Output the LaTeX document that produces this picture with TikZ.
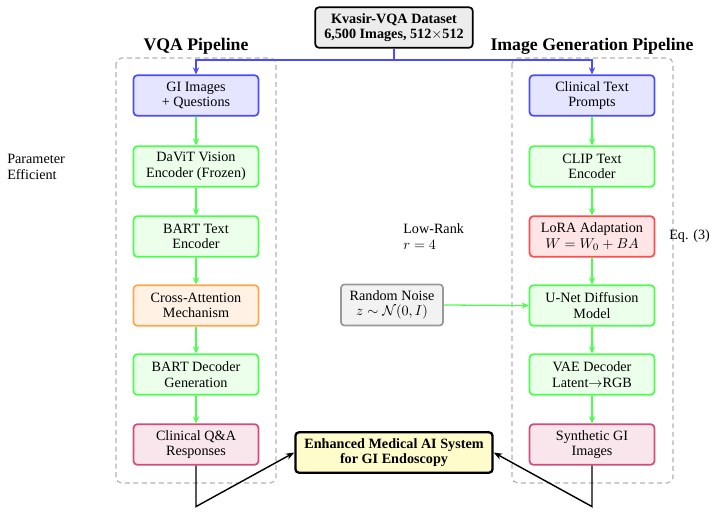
\documentclass[tikz,border=0pt]{standalone}
\usepackage{fontspec}
\setmainfont{Liberation Serif}
\usetikzlibrary{arrows.meta}
\begin{document}
\begin{tikzpicture}[x=0.705pt,y=-0.705pt,
  every node/.style={font=\fontsize{10}{11}\selectfont},
  box/.style={rectangle, rounded corners=2.5pt, align=center, minimum width=88pt, minimum height=28.5pt, inner sep=2pt, line width=1.2pt},
  inbox/.style={box, draw=blue!70, fill=blue!10},
  gbox/.style={box, draw=green!70, fill=green!8},
  obox/.style={box, draw=orange!70, fill=orange!10},
  rbox/.style={box, draw=red!70, fill=red!10},
  pbox/.style={box, draw=purple!70, fill=purple!10},
  garrow/.style={draw=green!70, line width=0.9pt, -{Stealth[length=5pt,width=4.5pt]}},
  barrow/.style={draw=blue!70, line width=0.9pt, -{Stealth[length=5pt,width=4.5pt]}},
  karrow/.style={draw=black, line width=1pt, -{Stealth[length=6pt,width=4.5pt]}},
  pipe/.style={draw=gray!60, dashed, dash pattern=on 3.5pt off 2.5pt, line width=0.8pt, rounded corners=4pt},
  ptitle/.style={font=\fontsize{12.5}{14}\selectfont\bfseries}
]
\useasboundingbox (0,0) rectangle (714,514);

% pipeline frames
\draw[pipe] (116,58) rectangle (276,483);
\draw[pipe] (512,58) rectangle (673,483);
\node[ptitle] (t1) at (196,46) {VQA Pipeline};
\node[ptitle] (t2) at (592,46) {Image Generation Pipeline};

% dataset
\node[box, draw=black, fill=gray!15, line width=1.2pt, minimum width=111pt, font=\fontsize{10}{11}\selectfont\bfseries] (kv) at (394,27.5) {Kvasir-VQA Dataset\\6,500 Images, 512$\times$512};

% VQA column
\node[inbox] (gi) at (196,95.5) {GI Images\\+ Questions};
\node[gbox] (davit) at (196,166.5) {DaViT Vision\\Encoder (Frozen)};
\node[gbox] (bart) at (196,236.5) {BART Text\\Encoder};
\node[obox] (ca) at (196,305.5) {Cross-Attention\\Mechanism};
\node[gbox] (dec) at (196,374.5) {BART Decoder\\Generation};
\node[pbox] (qa) at (196,444.5) {Clinical Q\&A\\Responses};

% Generation column
\node[inbox] (ctp) at (592,95.5) {Clinical Text\\Prompts};
\node[gbox] (clip) at (592,166.5) {CLIP Text\\Encoder};
\node[rbox] (lora) at (592,236.5) {LoRA Adaptation\\$W = W_0 + BA$};
\node[gbox] (unet) at (592,305.5) {U-Net Diffusion\\Model};
\node[gbox] (vae) at (592,374.5) {VAE Decoder\\Latent$\rightarrow$RGB};
\node[pbox] (syn) at (592,444.5) {Synthetic GI\\Images};

% noise
\node[box, draw=gray!80, fill=gray!10, minimum width=72pt, minimum height=29pt] (noise) at (392,305) {Random Noise\\$z \sim \mathcal{N}(0, I)$};

% output
\node[box, draw=black, fill=yellow!20, line width=1.6pt, minimum width=139pt, font=\fontsize{10}{11}\selectfont\bfseries] (enh) at (394,452.5) {Enhanced Medical AI System\\for GI Endoscopy};

% annotations
\node[anchor=west, align=left, inner sep=0pt] (pe) at (7,167) {Parameter\\Efficient};
\node[anchor=west, align=left, inner sep=0pt] (lr) at (403,236.5) {Low-Rank\\$r = 4$};
\node[anchor=west, inner sep=0pt] (eq) at (669,236.5) {Eq. (3)};

% blue arrows
\coordinate (j) at (394,60);
\draw[draw=blue!70, line width=0.9pt] (kv.south) -- (j);
\draw[barrow] (j) -| (gi.north);
\draw[barrow] (j) -| (ctp.north);

% green arrows
\draw[garrow] (gi) -- (davit);
\draw[garrow] (davit) -- (bart);
\draw[garrow] (bart) -- (ca);
\draw[garrow] (ca) -- (dec);
\draw[garrow] (dec) -- (qa);
\draw[garrow] (ctp) -- (clip);
\draw[garrow] (clip) -- (lora);
\draw[garrow] (lora) -- (unet);
\draw[garrow] (unet) -- (vae);
\draw[garrow] (vae) -- (syn);
\draw[garrow] (noise.east) -- (unet.west);

% black arrows
\draw[karrow] (qa.south) -- ++(0,41) -- (enh.west);
\draw[karrow] (syn.south) -- ++(0,41) -- (enh.east);
\end{tikzpicture}
\end{document}
